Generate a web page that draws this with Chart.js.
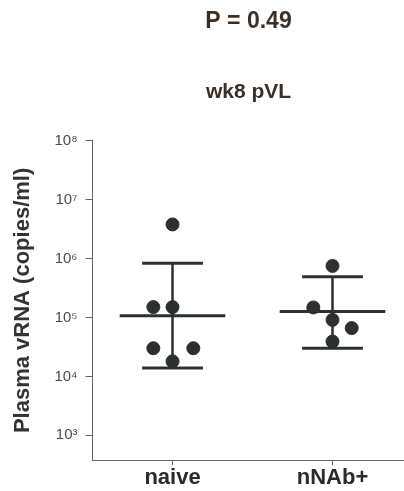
<!DOCTYPE html>
<html>
<head>
<meta charset="utf-8">
<script src="https://cdn.jsdelivr.net/npm/chart.js@4"></script>
<style>
    html, body { margin: 0; padding: 0; background: #fff; overflow: hidden; }
    #wrap { width: 404px; height: 491px; overflow: hidden; }
</style>
</head>
<body>
<div id="wrap"><canvas id="chart" width="412" height="491"></canvas></div>
<script>
// groups on the x axis
const groups = ["naive", "nNAb+"];

// plasma vRNA (copies/ml)
const naiveValues = [3.8e6, 1.5e5, 1.5e5, 3.0e4, 3.0e4, 1.8e4];
const nabValues = [7.5e5, 1.48e5, 9.1e4, 6.6e4, 3.9e4];

// horizontal scatter of the dots inside each group
const naiveJitter = [0, -0.12, 0, -0.12, 0.13, 0];
const nabJitter = [0, -0.12, 0, 0.12, 0];

// geometric mean and SD bounds per group
const means = [1.07e5, 1.26e5];
const upperSD = [8.3e5, 4.9e5];
const lowerSD = [1.38e4, 3.0e4];

const yTicks = [1e3, 1e4, 1e5, 1e6, 1e7, 1e8];

const FONT = "'Liberation Sans', Arial, sans-serif";
const INK = "#2b312e";
const sup = { "0": "⁰", "1": "¹", "2": "²", "3": "³", "4": "⁴", "5": "⁵", "6": "⁶", "7": "⁷", "8": "⁸", "9": "⁹" };

function toPoints(values, jitter, g) {
    return values.map((v, i) => ({ x: g + jitter[i], y: v }));
}

// mean bar, SD caps and the vertical whisker for one group
function summaryLines(g) {
    const seg = (x0, x1, y0, y1, w) => ({
        type: "line",
        data: [{ x: x0, y: y0 }, { x: x1, y: y1 }],
        borderColor: INK,
        borderWidth: w,
        pointRadius: 0,
        order: 2,
    });
    return [
        seg(g, g, lowerSD[g], upperSD[g], 2.5),
        seg(g - 0.33, g + 0.33, means[g], means[g], 3),
        seg(g - 0.19, g + 0.19, upperSD[g], upperSD[g], 3),
        seg(g - 0.19, g + 0.19, lowerSD[g], lowerSD[g], 3),
    ];
}

const dotStyle = {
    type: "scatter",
    backgroundColor: INK,
    borderColor: INK,
    pointRadius: 6.5,
    pointHoverRadius: 6.5,
    order: 0,
};

new Chart(document.getElementById("chart"), {
    data: {
        datasets: [
            Object.assign({ label: groups[0], data: toPoints(naiveValues, naiveJitter, 0) }, dotStyle),
            Object.assign({ label: groups[1], data: toPoints(nabValues, nabJitter, 1) }, dotStyle),
            ...summaryLines(0),
            ...summaryLines(1),
        ],
    },
    options: {
        responsive: false,
        animation: false,
        layout: { padding: { left: 0, right: 0, top: 0, bottom: 0 } },
        plugins: {
            legend: { display: false },
            tooltip: { enabled: false },
            title: {
                display: true,
                text: "P = 0.49",
                fullSize: false,
                color: "#3b2f26",
                font: { family: FONT, size: 23, weight: "bold" },
                padding: { top: 8, bottom: 44 },
            },
            subtitle: {
                display: true,
                text: "wk8 pVL",
                fullSize: false,
                color: "#3a2f28",
                font: { family: FONT, size: 21, weight: "bold" },
                padding: { top: 0, bottom: 36 },
            },
        },
        scales: {
            x: {
                type: "linear",
                min: -0.5,
                max: 1.45,
                afterBuildTicks: (axis) => { axis.ticks = groups.map((_, i) => ({ value: i })); },
                ticks: {
                    callback: (v) => groups[v],
                    color: "#2e2a28",
                    font: { family: FONT, size: 22, weight: "bold", lineHeight: 1 },
                    padding: 2,
                    maxRotation: 0,
                },
                grid: { drawOnChartArea: false, drawTicks: true, tickLength: 5, color: "#666" },
                border: { color: "#666", width: 1 },
            },
            y: {
                type: "logarithmic",
                min: 380,
                max: 1e8,
                afterBuildTicks: (axis) => { axis.ticks = yTicks.map((v) => ({ value: v })); },
                ticks: {
                    callback: (v) => "10" + String(Math.round(Math.log10(v))).split("").map((c) => sup[c]).join(""),
                    color: "#54493f",
                    font: { family: FONT, size: 15 },
                    padding: 8,
                },
                grid: { drawOnChartArea: false, drawTicks: true, tickLength: 7, color: "#666" },
                border: { color: "#666", width: 1 },
                title: {
                    display: true,
                    text: "Plasma vRNA (copies/ml)",
                    color: "#333",
                    font: { family: FONT, size: 22, weight: "bold" },
                    padding: { top: 10, bottom: 10 },
                },
            },
        },
    },
});
</script>
</body>
</html>
